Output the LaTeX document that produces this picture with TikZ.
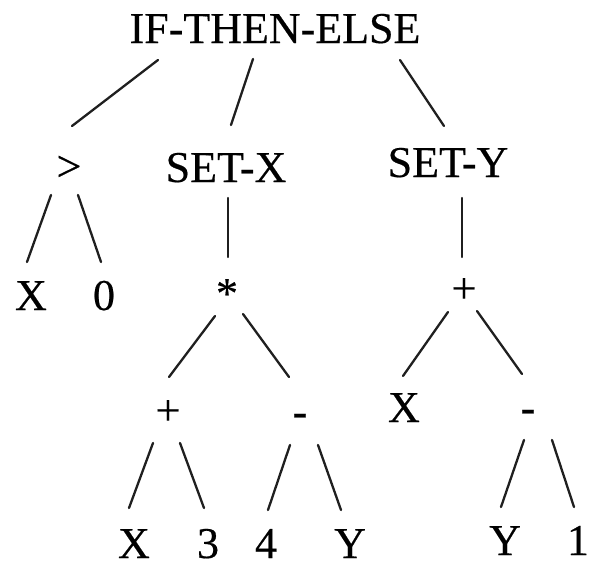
\documentclass[tikz,border=0pt]{standalone}
\usepackage{fontspec}
\setmainfont{Liberation Serif}
\newfontfamily\treefont[FakeBold=0.4]{Liberation Serif}
\begin{document}
\begin{tikzpicture}[x=1pt,y=-1pt,
  lbl/.style={anchor=base,inner sep=0pt,font=\treefont\fontsize{44}{48}\selectfont},
  branch/.style={line width=2.3pt,color=black!88,line cap=round}]
\useasboundingbox (0,0) rectangle (591,573);
% tree nodes (base points)
\node[lbl] (root)   at (275,43)  {IF-THEN-ELSE};
\node[lbl] (gt)     at (69,181)  {>};
\node[lbl] (setx)   at (226,182) {SET-X};
\node[lbl] (sety)   at (448,177) {SET-Y};
\node[lbl] (x1)     at (31,310)  {X};
\node[lbl] (z0)     at (104,310) {0};
\node[lbl] (mul)    at (227,308) {*};
\node[lbl] (plusR)  at (464,303) {+};
\node[lbl] (plusL)  at (168,425) {+};
\node[lbl] (minusM) at (300,426) {-};
\node[lbl] (xR)     at (404,422) {X};
\node[lbl] (minusR) at (528,422) {-};
\node[lbl] (x2)     at (134,558) {X};
\node[lbl] (n3)     at (208,558) {3};
\node[lbl] (n4)     at (266,558) {4};
\node[lbl] (yM)     at (350,558) {Y};
\node[lbl] (yR)     at (505,555) {Y};
\node[lbl] (n1)     at (578,555) {1};
% branches
\draw[branch] ([shift={(-117,17)}]root.base) -- ([shift={(3,-55)}]gt.base);
\draw[branch] ([shift={(-22,16)}]root.base) -- ([shift={(5,-57)}]setx.base);
\draw[branch] ([shift={(125,17)}]root.base) -- ([shift={(-4,-51)}]sety.base);
\draw[branch] ([shift={(-18,14)}]gt.base) -- ([shift={(-4,-48)}]x1.base);
\draw[branch] ([shift={(9,14)}]gt.base) -- ([shift={(-3,-48)}]z0.base);
\draw[branch] ([shift={(2,16)}]setx.base) -- ([shift={(1,-51)}]mul.base);
\draw[branch] ([shift={(14,21)}]sety.base) -- ([shift={(-2,-46)}]plusR.base);
\draw[branch] ([shift={(-12,8)}]mul.base) -- ([shift={(1,-48)}]plusL.base);
\draw[branch] ([shift={(16,6)}]mul.base) -- ([shift={(-11,-49)}]minusM.base);
\draw[branch] ([shift={(-16,9)}]plusR.base) -- ([shift={(-1,-46)}]xR.base);
\draw[branch] ([shift={(13,8)}]plusR.base) -- ([shift={(-6,-48)}]minusR.base);
\draw[branch] ([shift={(-15,18)}]plusL.base) -- ([shift={(-5,-50)}]x2.base);
\draw[branch] ([shift={(12,18)}]plusL.base) -- ([shift={(-4,-50)}]n3.base);
\draw[branch] ([shift={(-10,19)}]minusM.base) -- ([shift={(2,-48)}]n4.base);
\draw[branch] ([shift={(18,19)}]minusM.base) -- ([shift={(-9,-48)}]yM.base);
\draw[branch] ([shift={(-4,18)}]minusR.base) -- ([shift={(-4,-48)}]yR.base);
\draw[branch] ([shift={(24,18)}]minusR.base) -- ([shift={(-4,-48)}]n1.base);
\end{tikzpicture}
\end{document}
